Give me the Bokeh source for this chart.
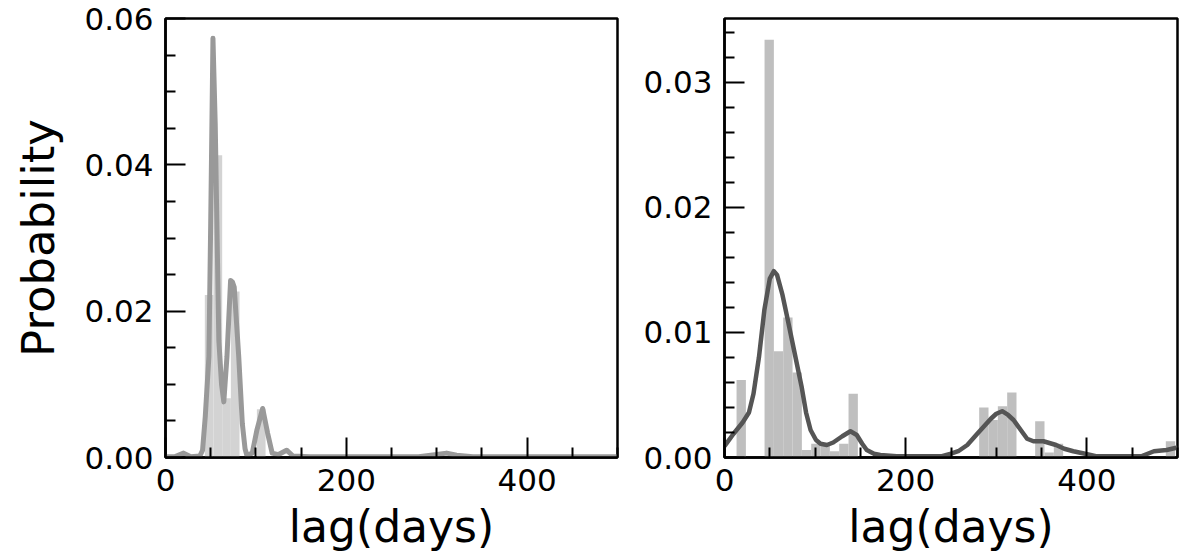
from bokeh.plotting import figure
from bokeh.layouts import row
from bokeh.models import Range1d, FixedTicker, PrintfTickFormatter
from bokeh.embed import file_html
from bokeh.resources import INLINE

# ---- Left panel data ----
left_bin_lo = [43.5, 53.1, 62.7, 72.3, 101.1]
left_bin_hi = [53.1, 62.7, 72.3, 81.9, 110.7]
left_bin_h = [0.0222, 0.0413, 0.0081, 0.0227, 0.0066]

left_kde_x = [0, 10, 20, 28, 38, 41, 44, 48, 50, 52.5, 55, 59, 62, 64.5, 68, 72, 74, 76,
              81, 85, 88, 90, 96, 101, 107.5, 113, 118, 125, 134, 141, 160, 280, 300,
              311, 322, 340, 500]
left_kde_y = [0.0001, 0.0001, 0.0006, 0.0001, 0.0002, 0.0010, 0.0056, 0.0138, 0.0320,
              0.0573, 0.0456, 0.0160, 0.0100, 0.0076, 0.0138, 0.0242, 0.0240, 0.0233,
              0.0138, 0.0046, 0.0012, 0.0003, 0.0006, 0.0037, 0.0067, 0.0033, 0.0006,
              0.0004, 0.0010, 0.0002, 0.0001, 0.0001, 0.0004, 0.0006, 0.0003, 0.0001,
              0.0001]

# ---- Right panel data ----
right_bin_lo = [13.3, 44.2, 54.5, 64.8, 75.1, 85.4, 95.7, 106.0, 116.3, 126.6, 136.9,
                281.1, 291.4, 301.7, 312.0, 342.9, 353.2, 363.5, 487.1]
right_bin_hi = [23.6, 54.5, 64.8, 75.1, 85.4, 95.7, 106.0, 116.3, 126.6, 136.9, 147.2,
                291.4, 301.7, 312.0, 322.3, 353.2, 363.5, 373.8, 497.4]
right_bin_h = [0.0062, 0.0334, 0.0085, 0.0112, 0.0068, 0.0006, 0.0011, 0.0010, 0.0005,
               0.0011, 0.0051, 0.0040, 0.0030, 0.0041, 0.0052, 0.0029, 0.0004, 0.0011,
               0.0013]

right_kde_x = [0, 10, 20, 27, 32, 38, 44, 50, 54.5, 58, 64, 69, 77, 85, 90, 95, 101, 106,
               113, 120, 130, 139, 146, 152, 157, 165, 172, 190, 240, 250, 258, 268, 279,
               294, 300, 306.5, 313, 319, 327, 334, 341, 352, 366, 375, 385, 398, 410,
               460, 474, 488, 500]
right_kde_y = [0.0009, 0.0019, 0.0028, 0.0036, 0.0051, 0.0080, 0.0118, 0.0143, 0.0149,
               0.0146, 0.0130, 0.0113, 0.0085, 0.0057, 0.0036, 0.0022, 0.0014, 0.0011,
               0.0010, 0.0012, 0.0017, 0.0021, 0.0018, 0.0011, 0.0006, 0.0003, 0.0002,
               0.0001, 0.0001, 0.0003, 0.0005, 0.0010, 0.0019, 0.0031, 0.0035, 0.0037,
               0.0034, 0.0030, 0.0022, 0.0015, 0.0013, 0.0013, 0.0010, 0.0007, 0.0005,
               0.0003, 0.0001, 0.0001, 0.0005, 0.0006, 0.0008]

x_major = [0, 200, 400]
x_minor = [50, 100, 150, 250, 300, 350, 450, 500]
left_y_major = [0.0, 0.02, 0.04, 0.06]
left_y_minor = [0.005, 0.01, 0.015, 0.025, 0.03, 0.035, 0.045, 0.05, 0.055]
right_y_major = [0.0, 0.01, 0.02, 0.03]
right_y_minor = [0.002, 0.004, 0.006, 0.008, 0.012, 0.014, 0.016, 0.018,
                 0.022, 0.024, 0.026, 0.028, 0.032, 0.034]

FONT = "DejaVu Sans"


def style(p, ymajor, yminor):
    p.grid.visible = False
    p.outline_line_color = "black"
    p.outline_line_width = 2.5
    p.xaxis.ticker = FixedTicker(ticks=x_major, minor_ticks=x_minor)
    p.yaxis.ticker = FixedTicker(ticks=ymajor, minor_ticks=yminor)
    p.yaxis.formatter = PrintfTickFormatter(format="%.2f")
    for ax in (p.xaxis, p.yaxis):
        ax.axis_line_width = 2.5
        ax.axis_line_color = "black"
        ax.major_tick_in = 20
        ax.major_tick_out = 0
        ax.minor_tick_in = 10
        ax.minor_tick_out = 0
        ax.major_tick_line_width = 2
        ax.minor_tick_line_width = 2
        ax.major_tick_line_color = "black"
        ax.minor_tick_line_color = "black"
        ax.major_label_text_font = FONT
        ax.major_label_text_font_size = "31px"
        ax.major_label_text_color = "black"
        ax.axis_label_text_font = FONT
        ax.axis_label_text_font_style = "normal"
        ax.axis_label_text_color = "black"
    p.xaxis.axis_label_text_font_size = "44px"
    p.yaxis.axis_label_text_font_size = "45px"
    p.yaxis.major_label_standoff = 12
    p.xaxis.major_label_standoff = 11
    p.xaxis.axis_label_standoff = 7
    p.yaxis.axis_label_standoff = 16
    p.xaxis.axis_label = "lag(days)"


p1 = figure(frame_width=452, frame_height=439, min_border_left=165, min_border_right=10,
            min_border_top=18, min_border_bottom=97,
            x_range=Range1d(0, 500), y_range=Range1d(0, 0.06),
            output_backend="svg", toolbar_location=None)
p1.quad(left=left_bin_lo, right=left_bin_hi, bottom=0, top=left_bin_h,
        fill_color="#d3d3d3", line_color=None)
p1.line(left_kde_x, left_kde_y, line_color="#999999", line_width=5, line_join="round")
style(p1, left_y_major, left_y_minor)
p1.yaxis.axis_label = "Probability"

p2 = figure(frame_width=453, frame_height=439, min_border_left=97, min_border_right=15,
            min_border_top=18, min_border_bottom=97,
            x_range=Range1d(0, 500), y_range=Range1d(0, 0.0351),
            output_backend="svg", toolbar_location=None)
p2.quad(left=right_bin_lo, right=right_bin_hi, bottom=0, top=right_bin_h,
        fill_color="#bfbfbf", line_color=None)
p2.line(right_kde_x, right_kde_y, line_color="#555555", line_width=4.5, line_join="round")
style(p2, right_y_major, right_y_minor)

layout = row(p1, p2)
open("out.html", "w").write(file_html(layout, INLINE))
